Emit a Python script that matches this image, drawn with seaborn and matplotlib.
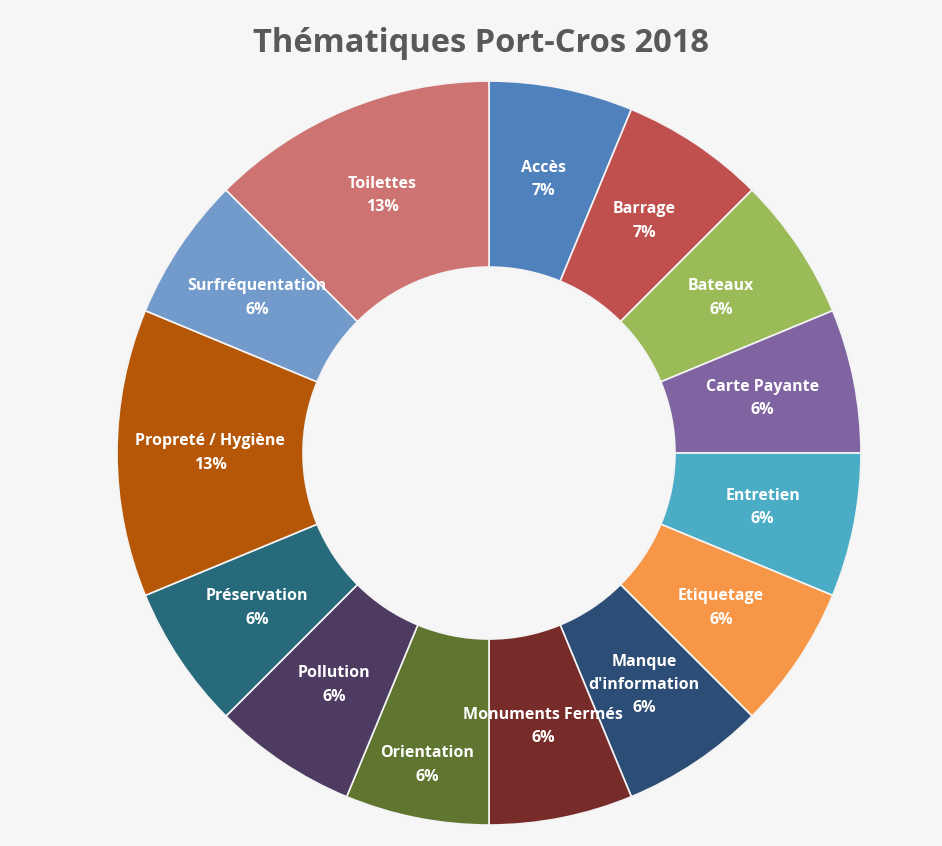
import matplotlib
matplotlib.use("Agg")
import numpy as np
import seaborn as sns
import matplotlib.pyplot as plt

# Thématiques Port-Cros 2018
themes = ["Accès", "Barrage", "Bateaux", "Carte Payante", "Entretien",
          "Etiquetage", "Manque\nd'information", "Monuments Fermés",
          "Orientation", "Pollution", "Préservation", "Propreté / Hygiène",
          "Surfréquentation", "Toilettes"]
effectifs = [1, 1, 1, 1, 1, 1, 1, 1, 1, 1, 1, 2, 1, 2]
# pourcentages affichés sur les étiquettes
pourcents = [7, 7, 6, 6, 6, 6, 6, 6, 6, 6, 6, 13, 6, 13]
couleurs = ["#4F81BD", "#C0504D", "#9BBB59", "#8064A2", "#4BACC6",
            "#F79646", "#2C4D75", "#772C2A", "#5F7530", "#4D3B62",
            "#276A7C", "#B65708", "#729ACA", "#CD7371"]

sns.set_theme(style="white")
plt.rcParams["font.family"] = ["Open Sans", "DejaVu Sans"]

fig = plt.figure(figsize=(9.42, 8.46), dpi=100)
fig.patch.set_facecolor("#f6f6f6")
ax = fig.add_axes([0.1242, 0.0248, 0.7898, 0.8794])
ax.set_facecolor("#f6f6f6")

wedges, _ = ax.pie(effectifs, colors=sns.color_palette(couleurs), startangle=90,
                   counterclock=False, radius=1.0,
                   wedgeprops=dict(width=0.5, edgecolor="#f4f4f4", linewidth=1.2))

for w, nom, p in zip(wedges, themes, pourcents):
    ang = np.deg2rad((w.theta1 + w.theta2) / 2)
    r = 0.855 if nom == "Orientation" else 0.75
    x, y = r * np.cos(ang), r * np.sin(ang)
    ax.text(x, y, f"{nom}\n{p}%", ha="center", va="center", color="white",
            fontsize=11.5, fontweight="bold", linespacing=1.62)

ax.set_xlim(-1, 1)
ax.set_ylim(-1, 1)
ax.set_aspect("equal")
ax.axis("off")

fig.text(0.5106, 0.949, "Thématiques Port-Cros 2018", ha="center", va="center",
         fontsize=23.5, fontweight="bold", color="#595959")

fig.savefig("out.png", dpi=100, facecolor=fig.get_facecolor())
